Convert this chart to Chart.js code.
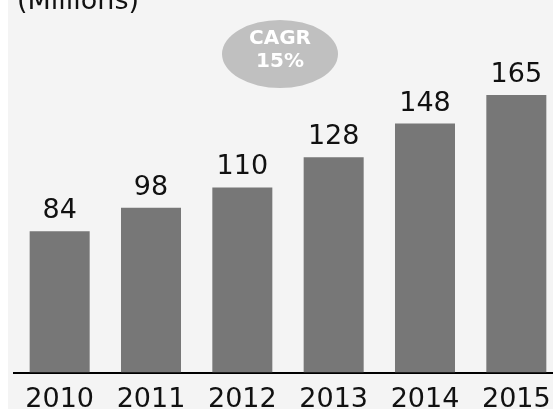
<!DOCTYPE html>
<html>
<head>
<meta charset="utf-8">
<script src="https://cdn.jsdelivr.net/npm/chart.js@4.4.1/dist/chart.umd.min.js"></script>
<style>
  html, body { margin: 0; padding: 0; background: #ffffff; overflow: hidden; }
  #bg { position: absolute; left: 8px; top: 0; width: 545px; height: 409px; background: #f4f4f4; }
  #wrap { position: absolute; left: 0; top: 0; width: 553px; height: 413px; overflow: hidden; }
</style>
</head>
<body>
<div id="bg"></div>
<div id="wrap"><canvas id="salesChart" width="570" height="427"></canvas></div>
<script>
// Valores (em milhões)
const years = ['2010', '2011', '2012', '2013', '2014', '2015'];
const values = [84, 98, 110, 128, 148, 165];
const unitLabel = '(Millions)';
const cagrLines = ['CAGR', '15%'];

const FONT = "'DejaVu Sans', Verdana, sans-serif";

// Rótulos de valor acima das barras
const valueLabels = {
    id: 'valueLabels',
    afterDatasetsDraw(chart) {
        const ctx = chart.ctx;
        const meta = chart.getDatasetMeta(0);
        ctx.save();
        ctx.fillStyle = '#111111';
        ctx.font = '27px ' + FONT;
        ctx.textAlign = 'center';
        ctx.textBaseline = 'alphabetic';
        meta.data.forEach((bar, i) => {
            ctx.fillText(String(values[i]), bar.x, bar.y - 13);
        });
        ctx.restore();
    }
};

// Título cortado e balão do CAGR
const extras = {
    id: 'extras',
    afterDraw(chart) {
        const ctx = chart.ctx;
        ctx.save();
        ctx.fillStyle = '#111111';
        ctx.font = '27px ' + FONT;
        ctx.textAlign = 'left';
        ctx.textBaseline = 'alphabetic';
        ctx.fillText(unitLabel, 17, 9);

        ctx.fillStyle = '#c0c0c0';
        ctx.beginPath();
        ctx.ellipse(280, 54, 58, 34, 0, 0, Math.PI * 2);
        ctx.fill();

        ctx.fillStyle = '#ffffff';
        ctx.font = 'bold 20px ' + FONT;
        ctx.textAlign = 'center';
        ctx.fillText(cagrLines[0], 280, 44);
        ctx.fillText(cagrLines[1], 280, 67);
        ctx.restore();
    }
};

new Chart(document.getElementById('salesChart'), {
    type: 'bar',
    data: {
        labels: years,
        datasets: [{
            data: values,
            backgroundColor: '#777777',
            borderWidth: 0,
            barPercentage: 0.657,
            categoryPercentage: 1
        }]
    },
    options: {
        responsive: false,
        animation: false,
        layout: { padding: { left: 14, right: 8, top: 36, bottom: 0 } },
        plugins: {
            legend: { display: false },
            tooltip: { enabled: false }
        },
        scales: {
            x: {
                grid: { display: false, drawTicks: false },
                border: { display: true, color: '#000000', width: 2 },
                ticks: {
                    color: '#111111',
                    padding: 11,
                    font: { family: FONT, size: 27 }
                }
            },
            y: {
                display: false,
                min: 0,
                max: 200
            }
        }
    },
    plugins: [valueLabels, extras]
});
</script>
</body>
</html>
